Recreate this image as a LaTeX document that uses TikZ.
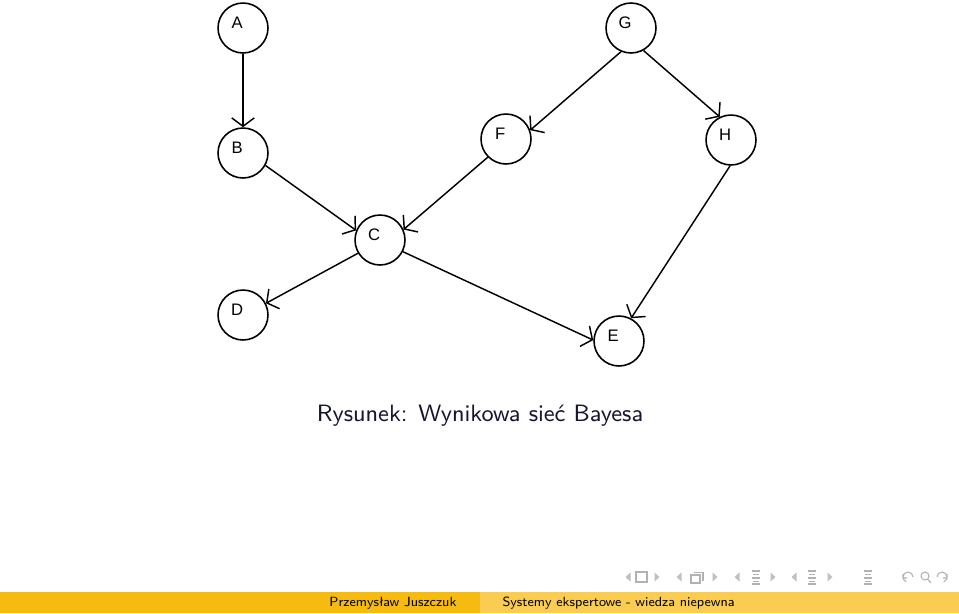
\documentclass[tikz,border=0pt]{standalone}
\usepackage{fontspec}
\usetikzlibrary{arrows.meta}
\newfontfamily\arialfont{Liberation Sans}
\definecolor{barDark}{RGB}{246,187,16}
\definecolor{barLight}{RGB}{250,204,82}
\definecolor{capBlue}{RGB}{22,22,48}

\begin{document}
\begin{tikzpicture}[x=0.3783pt,y=-0.3783pt,
  vtx/.style={draw,circle,line width=0.6pt,minimum size=18.9pt,inner sep=0pt},
  ar/.style={-{Straight Barb[length=3.2pt,width=8.5pt,line width=0.55pt]},line width=0.55pt},
  nav/.style={fill=gray!50,draw=none},
  navl/.style={draw=gray!60,line width=0.4pt}]
\useasboundingbox (0,0) rectangle (959,613);
\fill[white] (0,0) rectangle (959,613);
% graph nodes
\tikzset{lab/.style={font=\arialfont\fontsize{6.3}{7}\selectfont}}
\node[vtx,label={[lab,xshift=-2.2pt,yshift=2pt]center:A}] (a) at (243,28) {};
\node[vtx,label={[lab,xshift=-2.2pt,yshift=2pt]center:B}] (b) at (243,153) {};
\node[vtx,label={[lab,xshift=-2.2pt,yshift=2pt]center:C}] (c) at (380,240) {};
\node[vtx,label={[lab,xshift=-2.2pt,yshift=2pt]center:D}] (d) at (243,315) {};
\node[vtx,label={[lab,xshift=-2.2pt,yshift=2pt]center:E}] (e) at (619,341) {};
\node[vtx,label={[lab,xshift=-2.2pt,yshift=2pt]center:F}] (f) at (506,139) {};
\node[vtx,label={[lab,xshift=-2.2pt,yshift=2pt]center:G}] (g) at (631,28) {};
\node[vtx,label={[lab,xshift=-2.2pt,yshift=2pt]center:H}] (h) at (731,140) {};
% edges
\draw[ar,line width=0.9pt] (a) -- (b);
\draw[ar] (b.-29) -- (c.158);
\draw[ar] (f.225) -- (c.24);
\draw[ar] (g.247) -- (f.20);
\draw[ar] (g.-61) -- (h.116);
\draw[ar] (c.211) -- (d.27);
\draw[ar] (c.-27) -- (e.178);
\draw[ar] (h.-92) -- (e.62);
% caption
\node[font=\sffamily\fontsize{8.95}{11}\selectfont,text=capBlue] (cap) at (480,416) {Rysunek: Wynikowa sieć Bayesa};
% navigation symbols
\foreach \x in {627,678,736,793}{
  \fill[nav] (\x+3.5,572.5) -- (\x-1.5,577) -- (\x+3.5,581.5) -- cycle;
}
\foreach \x in {658,716,774,831}{
  \fill[nav] (\x-3.5,572.5) -- (\x+1.5,577) -- (\x-3.5,581.5) -- cycle;
}
\draw[navl] (636,572) rectangle (647,582);
\draw[navl] (691,575) rectangle (700,583) (693.5,572.5) -- (703,572.5) -- (703,580.5);
\foreach \x in {756,812,868}{
  \draw[navl] (\x-4,571) -- (\x+4,571) (\x-3,574.5) -- (\x+3,574.5) (\x-4,578) -- (\x+4,578) (\x-3,581.5) -- (\x+3,581.5) (\x-4,584) -- (\x+4,584);
}
\draw[navl] (913,577) arc (0:-250:5) (903,574) -- (903,578) -- (907,578);
\draw[navl] (925,576) circle (4) (928,579.5) -- (931,583);
\draw[navl] (937,577) arc (180:430:5) (947,574) -- (947,578) -- (943,578);
% footer bar
\fill[barDark] (0,592) rectangle (480,613);
\fill[barLight] (480,592) rectangle (959,613);
\node[font=\sffamily\fontsize{5.05}{6}\selectfont,anchor=east,inner sep=0pt] (auth) at (457,603) {Przemysław Juszczuk};
\node[font=\sffamily\fontsize{5.05}{6}\selectfont,anchor=west,inner sep=0pt] (ttl) at (502,603) {Systemy ekspertowe - wiedza niepewna};
\end{tikzpicture}
\end{document}
